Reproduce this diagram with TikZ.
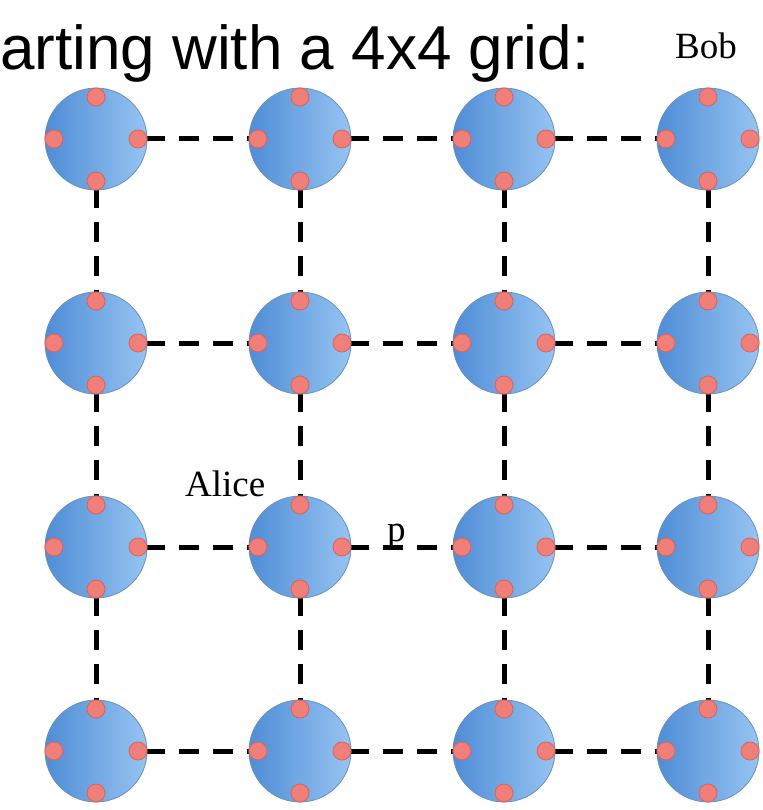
\documentclass[tikz,border=0pt]{standalone}
\usepackage{fontspec}
\setmainfont{Liberation Serif}
\newfontfamily\titlefont{Liberation Sans}
\usetikzlibrary{backgrounds}
\definecolor{blueL}{HTML}{4F8DD6}
\definecolor{blueR}{HTML}{96C4F2}
\definecolor{nodeedge}{HTML}{6A8EBC}
\definecolor{portfill}{HTML}{EF7F78}
\definecolor{portedge}{HTML}{D8635D}
\begin{document}
\begin{tikzpicture}[x=1pt,y=-1pt,
  qnode/.style={circle, minimum size=102pt, inner sep=0pt, draw=nodeedge, line width=0.8pt, left color=blueL, right color=blueR},
  port/.style={circle, minimum size=18pt, inner sep=0pt, draw=portedge, line width=0.8pt, fill=portfill},
  link/.style={draw=black, line width=5pt, dash pattern=on 20pt off 14pt, dash phase=27pt},
  lbl/.style={inner sep=0pt, anchor=base west, font=\fontsize{37}{37}\selectfont}]
\useasboundingbox (0,0) rectangle (762,810);
\foreach \i in {1,...,4}{
  \foreach \j in {1,...,4}{
    \pgfmathsetmacro{\cx}{96+204*(\i-1)}
    \pgfmathsetmacro{\cy}{139+204*(\j-1)}
    \node[qnode] (n-\i-\j) at (\cx,\cy) {};
    \node[port] (pN-\i-\j) at (\cx,\cy-42) {};
    \node[port] (pS-\i-\j) at (\cx,\cy+42) {};
    \node[port] (pW-\i-\j) at (\cx-42,\cy) {};
    \node[port] (pE-\i-\j) at (\cx+42,\cy) {};
  }
}
\begin{pgfonlayer}{background}
\foreach \i/\k in {1/2,2/3,3/4}{
  \foreach \j in {1,...,4}{
    \draw[link] (pE-\i-\j.center) -- (pW-\k-\j.center);
    \draw[link] (pS-\j-\i.center) -- (pN-\j-\k.center);
  }
}
\end{pgfonlayer}
\node[inner sep=0pt, anchor=base west, font=\titlefont\fontsize{62}{62}\selectfont] (title) at (-58.6,70) {Starting with a 4x4 grid:};
\node[lbl] (bob) at (675,59) {Bob};
\node[lbl] (alice) at (185,496) {Alice};
\node[lbl] (p) at (387,541) {p};
\end{tikzpicture}
\end{document}
